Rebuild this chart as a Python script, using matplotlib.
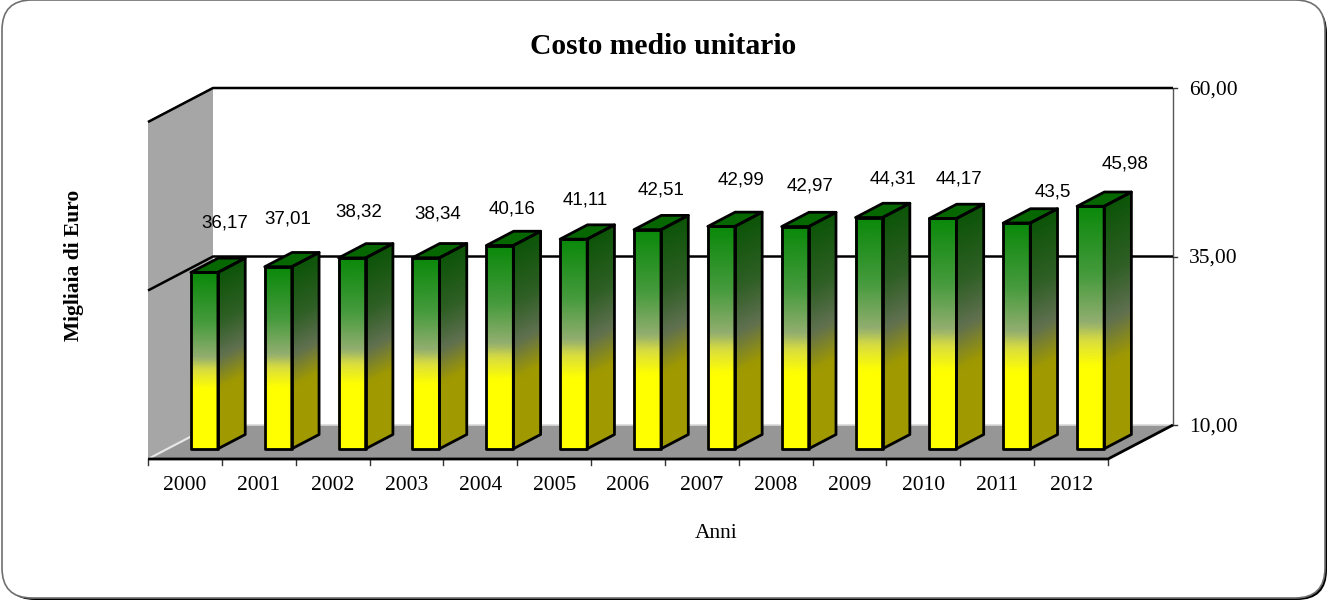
import matplotlib
matplotlib.use("Agg")
import matplotlib.pyplot as plt
import numpy as np
from matplotlib.colors import LinearSegmentedColormap
from matplotlib.patches import FancyBboxPatch, Polygon

years = ["2000", "2001", "2002", "2003", "2004", "2005", "2006",
         "2007", "2008", "2009", "2010", "2011", "2012"]
costs = [36.17, 37.01, 38.32, 38.34, 40.16, 41.11, 42.51,
         42.99, 42.97, 44.31, 44.17, 43.5, 45.98]
y_ticks = [10, 35, 60]

# hand placed value labels, pixels from the top middle of each bar
label_dx = [20, 10, 7, 12, 12, 12, 14, 20, 15, 24, 16, 36, 34]
label_dy = [49, 48, 46, 44, 37, 39, 40, 46, 41, 39, 39, 31, 42]

W, H = 1328, 601
LEFT, RIGHT, BOTTOM, TOP = 148, 1108, 459, 122   # front plane, in pixels
DEPTH_X, DEPTH_Y = 65, 34                        # floor depth, in pixels
SERIF = "Liberation Serif"

fig = plt.figure(figsize=(W / 100, H / 100), dpi=100)

# outer rounded frame
bg = fig.add_axes([0, 0, 1, 1])
bg.set_xlim(0, W)
bg.set_ylim(H, 0)
bg.axis("off")
bg.add_patch(FancyBboxPatch((5, 3), W - 6, H - 4, boxstyle="round,pad=0,rounding_size=30",
                            fc="black", ec="none"))
bg.add_patch(FancyBboxPatch((2, 0), W - 5, H - 3, boxstyle="round,pad=0,rounding_size=30",
                            fc="white", ec="#707070", lw=1.2))

ax = fig.add_axes([LEFT / W, 1 - BOTTOM / H, (RIGHT - LEFT) / W, (BOTTOM - TOP) / H])
ax.set_xlim(0, len(years))
ax.set_ylim(10, 60)
ax.axis("off")

# how far one step of depth moves a point, in data units
cat_px = (RIGHT - LEFT) / len(years)
val_px = (BOTTOM - TOP) / 50
dx = DEPTH_X / cat_px
dy = DEPTH_Y / val_px


def proj(x, y, d=0.0):
    return x + d * dx, y + d * dy


def poly(points, **kw):
    p = Polygon([proj(*pt) for pt in points], closed=True, clip_on=False, **kw)
    ax.add_patch(p)


def line(points, **kw):
    xs, ys = zip(*[proj(*pt) for pt in points])
    ax.plot(xs, ys, clip_on=False, solid_capstyle="butt", **kw)


n = len(years)

# walls and floor
poly([(0, 10, 0), (0, 10, 1), (0, 60, 1), (0, 60, 0)], fc="#A6A6A6", ec="none", zorder=1)
poly([(0, 10, 0), (n, 10, 0), (n, 10, 1), (0, 10, 1)], fc="#969696", ec="none", zorder=1)

line([(0, 10, 0), (0, 10, 0.65)], color="#E8E8E8", lw=1.5, zorder=2)
line([(0, 10, 1), (n, 10, 1)], color="#D9D9D9", lw=1.2, zorder=2)
line([(n, 10, 1), (n, 60, 1)], color="#555555", lw=1, zorder=2)
line([(0, 60, 0), (0, 60, 1)], color="#777777", lw=1.3, zorder=2)
for v in y_ticks[1:]:
    line([(0, v, 0), (0, v, 1), (n, v, 1)], color="black", lw=1.8, zorder=2)
line([(0, 10, 0), (n, 10, 0), (n, 10, 1)], color="black", lw=2, zorder=6)

# ticks and axis labels
for i in range(n + 1):
    ax.plot([i, i], [10, 10 - 6 / val_px], color="#333333", lw=1, clip_on=False, zorder=2)
for i, year in enumerate(years):
    ax.annotate(year, (i + 0.5, 10), xytext=(0, -26), textcoords="offset pixels", ha="center",
                va="center", family=SERIF, fontsize=15.5, annotation_clip=False)
for v in y_ticks:
    x, y = proj(n, v, 1)
    ax.plot([x, x + 4 / cat_px], [y, y], color="#333333", lw=1, clip_on=False, zorder=2)
    ax.annotate(f"{v:.2f}".replace(".", ","), (x, y), xytext=(16, -2), textcoords="offset pixels",
                va="center", family=SERIF, fontsize=15.5, annotation_clip=False)

# bars
front_cmap = LinearSegmentedColormap.from_list("front", [
    (0, "#FFFF00"), (0.34, "#FFFF00"), (0.45, "#D8DC40"), (0.52, "#93AE70"),
    (0.72, "#459A3C"), (1, "#0A880A")])
side_cmap = LinearSegmentedColormap.from_list("side", [
    (0, "#A09A00"), (0.34, "#A09A00"), (0.52, "#607050"), (0.72, "#2F5F25"), (1, "#0C5408")])

BAR_D0, BAR_D1 = 0.3, 0.72
BAR_W = 27 / cat_px
shade = np.linspace(0, 1, 41)

for i, v in enumerate(costs):
    x0 = i + 0.5 - BAR_W / 2
    x1 = x0 + BAR_W
    heights = 10 + shade * (v - 10)
    fx0, fy = proj(x0, heights, BAR_D0)
    fx1, _ = proj(x1, heights, BAR_D0)
    sx1, sy = proj(x1, heights, BAR_D1)
    z = 3 + i * 0.01

    X = np.column_stack([np.full(41, fx0), np.full(41, fx1)])
    Y = np.column_stack([fy, fy])
    C = np.column_stack([shade, shade])
    ax.pcolormesh(X, Y, C, shading="gouraud", cmap=front_cmap, vmin=0, vmax=1, zorder=z, clip_on=False)

    X = np.column_stack([np.full(41, fx1), np.full(41, sx1)])
    Y = np.column_stack([fy, sy])
    ax.pcolormesh(X, Y, C, shading="gouraud", cmap=side_cmap, vmin=0, vmax=1, zorder=z, clip_on=False)

    edge = dict(ec="black", lw=2, joinstyle="round", zorder=z + 0.005)
    poly([(x0, v, BAR_D0), (x1, v, BAR_D0), (x1, v, BAR_D1), (x0, v, BAR_D1)], fc="#066600", **edge)
    poly([(x0, 10, BAR_D0), (x1, 10, BAR_D0), (x1, v, BAR_D0), (x0, v, BAR_D0)], fc="none", **edge)
    poly([(x1, 10, BAR_D0), (x1, 10, BAR_D1), (x1, v, BAR_D1), (x1, v, BAR_D0)], fc="none", **edge)

    ax.annotate(str(v).replace(".", ","), proj(i + 0.5, v, BAR_D0),
                xytext=(label_dx[i], label_dy[i]), textcoords="offset pixels",
                ha="center", va="center", family="Liberation Sans",
                fontsize=13.5, annotation_clip=False, zorder=8)

# titles
bg.text(663.5, 46, "Costo medio unitario", ha="center", va="center", family=SERIF,
        fontsize=21.3, fontweight="bold")
bg.text(716.5, 533, "Anni", ha="center", va="center", family=SERIF, fontsize=15.5)
bg.text(74, 265.5, "Migliaia di Euro", ha="center", va="center", rotation=90, family=SERIF,
        fontsize=15.5, fontweight="bold")

fig.savefig("out.png", dpi=100)
